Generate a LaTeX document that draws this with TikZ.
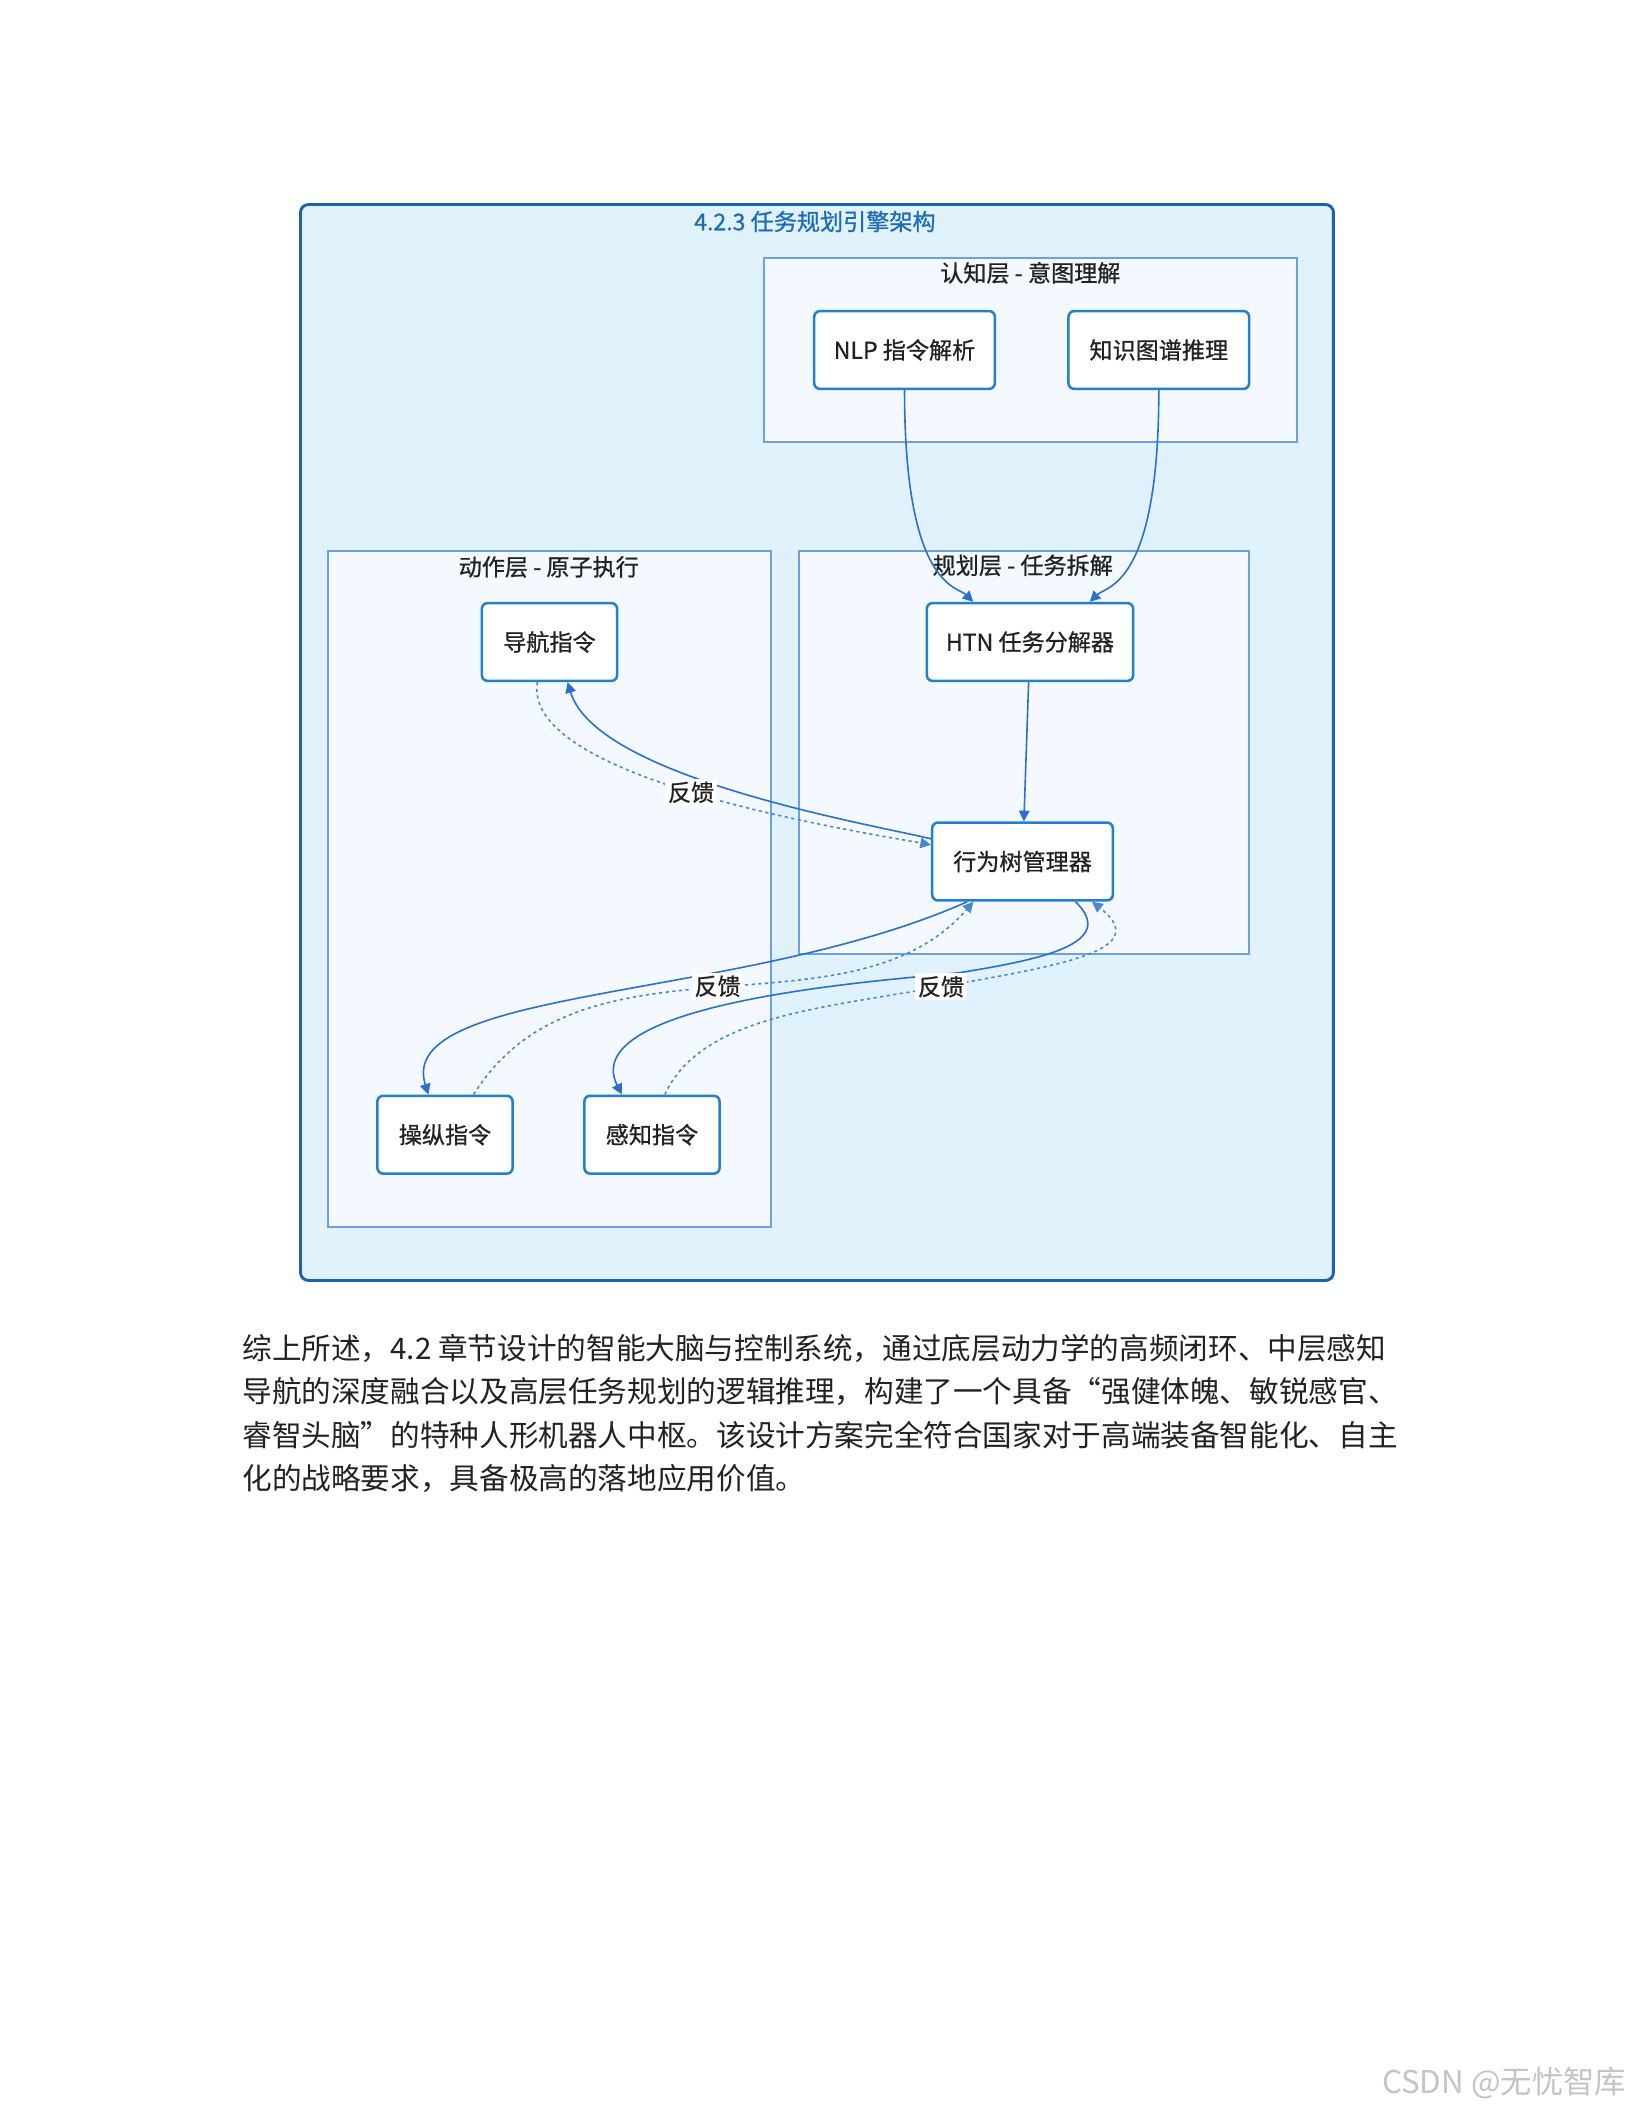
\documentclass[tikz,border=0pt]{standalone}
\usepackage{fontspec}
\setmainfont{Noto Sans CJK SC}
\newfontfamily\dfam[FakeBold=0.8]{Noto Sans CJK SC}
\usetikzlibrary{arrows.meta,positioning,calc}
\definecolor{framefill}{HTML}{E0F2FC}
\definecolor{frameline}{HTML}{1B62B0}
\definecolor{layerfill}{HTML}{F3F9FE}
\definecolor{layerline}{HTML}{6FA0DE}
\definecolor{boxline}{HTML}{2280CC}
\definecolor{titleblue}{HTML}{1E6BB8}
\definecolor{flowblue}{HTML}{2B6FD2}
\definecolor{backblue}{HTML}{4A86D8}
\definecolor{darktext}{HTML}{222222}
\definecolor{wmgrey}{HTML}{C4C4C4}
\newcommand{\dfont}{\dfam\fontsize{8.7}{10.4}\selectfont}

\begin{document}
\begin{tikzpicture}[
  cmd/.style={draw=boxline, line width=0.95pt, fill=white, rounded corners=2.2pt, minimum height=1.03cm, inner sep=0pt, font=\dfont, text=darktext},
  layer/.style={draw=layerline, line width=0.7pt, fill=layerfill, anchor=north west, inner sep=0pt},
  flow/.style={draw=flowblue, line width=0.6pt, -{Triangle[length=4pt,width=4pt]}},
  back/.style={draw=backblue, line width=0.6pt, dash pattern=on 1.2pt off 1.3pt, -{Triangle[length=4pt,width=4pt]}},
  tag/.style={fill=white, inner sep=1pt, font=\dfont, text=darktext}
]
\fill[white] (0,0) rectangle (21.59,-27.94);
\useasboundingbox (0,0) rectangle (21.59,-27.94);

% frame and layers
\node[draw=frameline, line width=1.1pt, fill=framefill, rounded corners=3pt, minimum width=13.665cm, minimum height=14.234cm, anchor=north west] (frame) at (3.956,-2.686) {};
\node[font=\dfont, text=titleblue] (title) at (10.78,-2.93) {4.2.3 任务规划引擎架构};

\node[layer, minimum width=7.05cm, minimum height=2.44cm] (cog) at (10.10,-3.40) {};
\node[font=\dfont, text=darktext] (coglbl) at (13.63,-3.61) {认知层 - 意图理解};

\node[layer, minimum width=5.86cm, minimum height=8.94cm] (act) at (4.33,-7.28) {};
\node[font=\dfont, text=darktext] (actlbl) at (7.26,-7.50) {动作层 - 原子执行};

\node[layer, minimum width=5.95cm, minimum height=5.33cm] (plan) at (10.56,-7.28) {};
\node[font=\dfont, text=darktext] (planlbl) at (13.53,-7.48) {规划层 - 任务拆解};

% command boxes
\node[cmd, minimum width=2.39cm] (nlp) at (11.966,-4.630) {NLP 指令解析};
\node[cmd, minimum width=2.39cm] (kg) at (15.330,-4.630) {知识图谱推理};
\node[cmd, minimum width=2.73cm] (htn) at (13.626,-8.493) {HTN 任务分解器};
\node[cmd, minimum width=2.39cm] (bt) at (13.527,-11.397) {行为树管理器};
\node[cmd, minimum width=1.79cm] (nav) at (7.269,-8.493) {导航指令};
\node[cmd, minimum width=1.79cm] (man) at (5.887,-15.011) {操纵指令};
\node[cmd, minimum width=1.79cm] (sen) at (8.625,-15.011) {感知指令};

\coordinate (senbend) at (12.74,-12.86);
\coordinate (fbbend) at (12.449,-13.053);

% commands down
\draw[flow] (nlp.south) .. controls +(0,-2.6) and +(-0.22,0.21) .. ([xshift=-0.75cm]htn.north);
\draw[flow] (kg.south) .. controls +(0,-2.6) and +(0.22,0.21) .. ([xshift=0.79cm]htn.north);
\draw[flow] (htn) -- (bt);
\draw[flow] ([yshift=0.30cm]bt.west) .. controls +(-0.77,0.19) and +(0.38,-1.27) .. ([xshift=0.24cm]nav.south);
\draw[flow] ([xshift=-0.73cm]bt.south) .. controls +(-2.96,-1.32) and +(-0.45,1.43) .. ([xshift=-0.22cm]man.north);
\draw[flow] ([xshift=0.70cm]bt.south) .. controls +(0.57,-0.55) and +(1.04,0.17) .. (senbend) .. controls +(-0.50,-0.08) and +(-0.65,1.30) .. ([xshift=-0.40cm]sen.north);

% feedback
\draw[back] ([xshift=-0.16cm]nav.south) .. controls +(-0.22,-1.30) and +(-0.91,0.17) .. ([yshift=0.22cm]bt.west) node[tag, pos=0.48] {反馈};
\draw[back] ([xshift=0.38cm]man.north) .. controls +(1.42,2.30) and +(-1.63,-1.88) .. ([xshift=-0.65cm]bt.south) node[tag, pos=0.5] {反馈};
\draw[back] ([xshift=0.17cm]sen.north) .. controls +(0.48,1.03) and +(-1.63,-0.29) .. (fbbend) node[tag] {反馈} .. controls +(1.56,0.28) and +(0.83,-0.65) .. ([xshift=0.92cm]bt.south);

% text below
\node[anchor=base west, font=\fontsize{11.15}{13}\selectfont, text=darktext, inner sep=0pt] (p1) at (3.20,-17.98) {综上所述，4.2 章节设计的智能大脑与控制系统，通过底层动力学的高频闭环、中层感知};
\node[anchor=base west, font=\fontsize{11.15}{13}\selectfont, text=darktext, inner sep=0pt] (p2) at (3.20,-18.56) {导航的深度融合以及高层任务规划的逻辑推理，构建了一个具备“强健体魄、敏锐感官、};
\node[anchor=base west, font=\fontsize{11.15}{13}\selectfont, text=darktext, inner sep=0pt] (p3) at (3.20,-19.14) {睿智头脑”的特种人形机器人中枢。该设计方案完全符合国家对于高端装备智能化、自主};
\node[anchor=base west, font=\fontsize{11.15}{13}\selectfont, text=darktext, inner sep=0pt] (p4) at (3.20,-19.71) {化的战略要求，具备极高的落地应用价值。};

\node[anchor=east, inner sep=0pt, font=\fontsize{11.8}{14}\selectfont, text=wmgrey] (wm) at (21.52,-27.56) {CSDN @无忧智库};
\end{tikzpicture}
\end{document}
